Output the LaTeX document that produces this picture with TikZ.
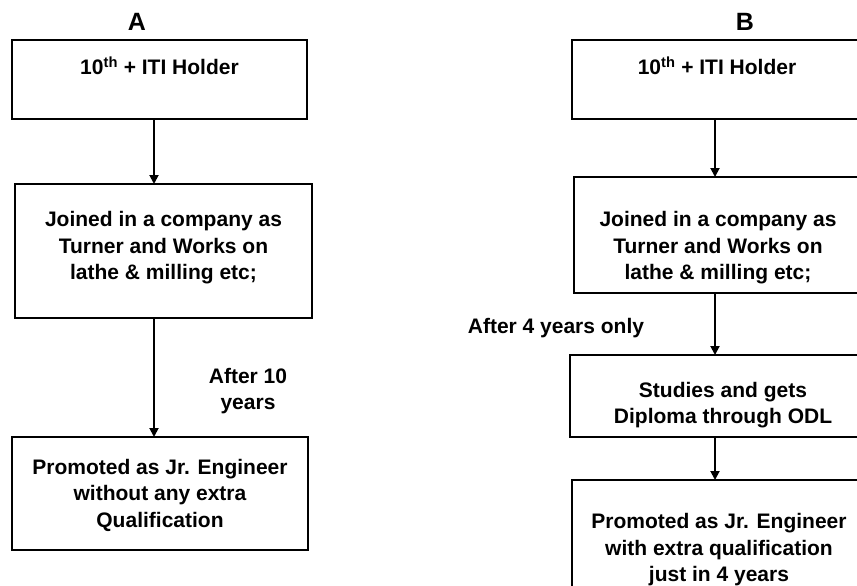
\documentclass[tikz,border=0pt]{standalone}
\usepackage{fontspec}
\setmainfont{Liberation Sans}
\usetikzlibrary{positioning,arrows.meta}

\begin{document}
\begin{tikzpicture}[x=1pt,y=-1pt,
    box/.style={draw,line width=1.9pt,inner sep=0pt,outer sep=0pt},
    txt/.style={align=center,inner sep=0pt,font=\bfseries\fontsize{21}{26.5}\selectfont},
    head/.style={inner sep=0pt,font=\bfseries\fontsize{25}{28}\selectfont},
    arr/.style={line width=1.9pt,-{Triangle[length=9pt,width=9pt]}}]
    \useasboundingbox (0,0) rectangle (857,586);
    \coordinate (colA) at (154,0);
    \coordinate (colB) at (715,0);
    % column A
    \node[head] (headA) at (137,21.5) {A};
    \node[box,minimum width=295,minimum height=79] (a1) at (159.5,79.5) {};
    \node[txt] (a1t) at (159.5,66) {10\textsuperscript{th} + ITI Holder};
    \node[box,minimum width=297,minimum height=134] (a2) at (163.5,251) {};
    \node[txt] (a2t) at (163.5,248) {Joined in a company as\\Turner and Works on\\lathe \& milling etc;};
    \node[box,minimum width=296,minimum height=113] (a3) at (160,493.5) {};
    \node[txt] (a3t) at (160,495) {Promoted as Jr. Engineer\\without any extra\\Qualification};
    \node[txt] (lA) at (248,391) {After 10\\years};
    \draw[arr] (a1.south -| colA) -- (a2.north -| colA);
    \draw[arr] (a2.south -| colA) -- (a3.north -| colA);
    % column B
    \node[head] (headB) at (745,21.5) {B};
    \node[box,minimum width=290,minimum height=79] (b1) at (717,79.5) {};
    \node[txt] (b1t) at (717,66) {10\textsuperscript{th} + ITI Holder};
    \node[box,minimum width=288,minimum height=116] (b2) at (718,235) {};
    \begin{scope}
        \clip ([yshift=-1pt]b2.north west) rectangle ([yshift=7pt]b2.south east);
        \node[txt] (b2t) at (718,248) {Joined in a company as\\Turner and Works on\\lathe \& milling etc;};
    \end{scope}
    \node[box,minimum width=292,minimum height=82] (b3) at (716,396) {};
    \begin{scope}
        \clip ([yshift=-1pt]b3.north west) rectangle ([yshift=9pt]b3.south east);
        \node[txt] (b3t) at (723,405) {Studies and gets\\Diploma through ODL};
    \end{scope}
    \node[box,minimum width=290,minimum height=120] (b4) at (717,540) {};
    \node[txt] (b4t) at (719,550) {Promoted as Jr. Engineer\\with extra qualification\\just in 4 years};
    \node[txt] (lB) at (556,328) {After 4 years only};
    \draw[arr] (b1.south -| colB) -- (b2.north -| colB);
    \draw[arr] (b2.south -| colB) -- (b3.north -| colB);
    \draw[arr] (b3.south -| colB) -- (b4.north -| colB);
\end{tikzpicture}
\end{document}
